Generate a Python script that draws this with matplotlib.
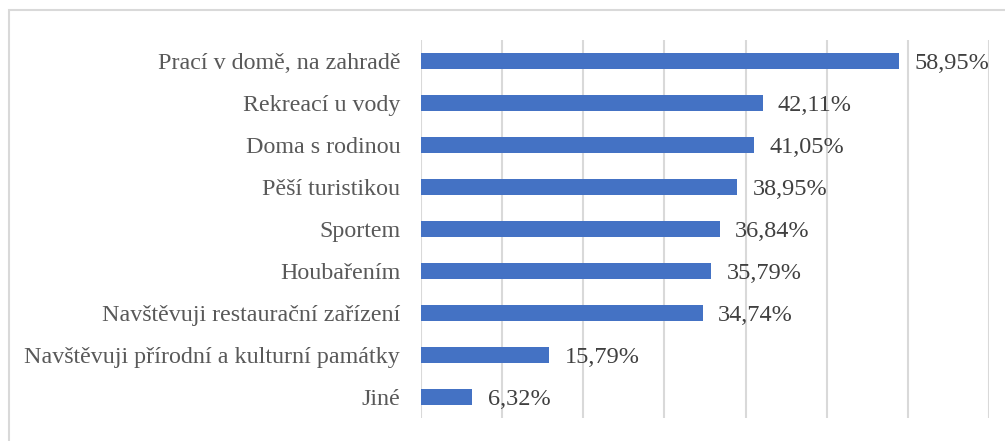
import matplotlib.pyplot as plt
from matplotlib.patches import Rectangle

kategorie = ["Prací v domě, na zahradě", "Rekreací u vody", "Doma s rodinou",
             "Pěší turistikou", "Sportem", "Houbařením",
             "Navštěvuji restaurační zařízení",
             "Navštěvuji přírodní a kulturní památky", "Jiné"]
hodnoty = [58.95, 42.11, 41.05, 38.95, 36.84, 35.79, 34.74, 15.79, 6.32]

plt.rcParams['font.family'] = ['Liberation Serif', 'DejaVu Serif']
barva_textu = '#595959'

fig = plt.figure(figsize=(10.05, 4.41), dpi=100)
W, H = 1005, 441
ax = fig.add_axes([421 / W, 1 - 418 / H, (989 - 421) / W, (418 - 40) / H])

y = list(range(len(kategorie)))[::-1]
ax.barh(y, hodnoty, height=0.36, color='#4472C4', zorder=3)
for yi, v in zip(y, hodnoty):
    txt = f"{v:.2f}".replace('.', ',') + '%'
    ax.annotate(txt, (v, yi), xytext=(11, -2), textcoords='offset points',
                va='center', ha='left', fontsize=17.5, color='#404040')

ax.set_xlim(0, 70)
ax.set_ylim(-0.5, len(kategorie) - 0.5)
ax.set_xticks(range(0, 71, 10))
ax.set_xticklabels([])
ax.set_yticks(y)
ax.set_yticklabels(kategorie, fontsize=17.3, color=barva_textu)
ax.tick_params(axis='both', length=0)
ax.tick_params(axis='y', pad=15)
ax.grid(axis='x', color='#d9d9d9', linewidth=1.5, zorder=0)
for s in ax.spines.values():
    s.set_visible(False)

# ramecek grafu
fig.patches.append(Rectangle((9 / W, -0.1), 1.2, 1 - 10 / H + 0.1,
                             transform=fig.transFigure, fill=False,
                             edgecolor='#d9d9d9', linewidth=1.5))

fig.savefig('out.png', dpi=100)
